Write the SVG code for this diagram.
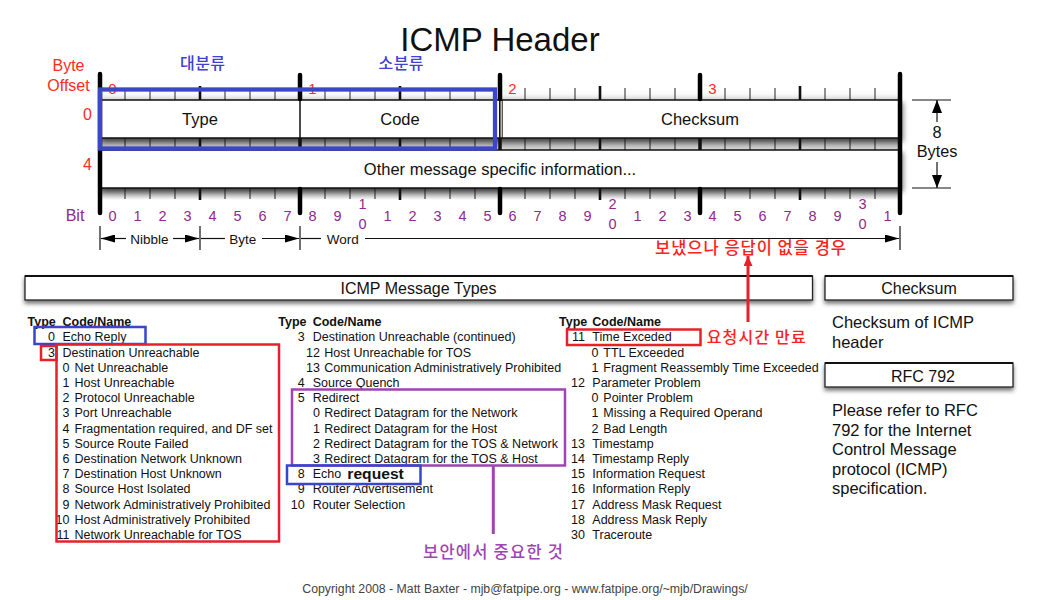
<svg xmlns="http://www.w3.org/2000/svg" width="1050" height="600" viewBox="0 0 1050 600">
<defs>
<style>
text{font-family:"Liberation Sans",Arial,Helvetica,sans-serif;}
.kr{font-family:"Noto Sans CJK KR","Noto Sans CJK SC",sans-serif;font-weight:500;}
.red{fill:#ff2b1e;}
.pur{fill:#8e2a8e;font-size:14.5px;text-anchor:middle;}
.lbl{font-size:16.5px;text-anchor:middle;fill:#111;}
.li{font-size:12.5px;fill:#111;}
.n{font-size:12.5px;fill:#111;text-anchor:end;}
.hd{font-size:12.5px;font-weight:bold;fill:#111;}
.rt{font-size:16.5px;fill:#111;}
.sec{font-size:16px;fill:#111;text-anchor:middle;}
.row{fill:#fff;stroke:#111;stroke-width:1.5;}
.secbox{fill:#fff;stroke:#222;stroke-width:1.3;}
.nib{stroke:#111;stroke-width:2.6;}
.bar{stroke:#000;stroke-width:4.5;stroke-linecap:round;}
.rl{stroke:#111;stroke-width:1.2;fill:none;}
.bbox{fill:none;stroke:#3a44cc;stroke-width:2.5;}
.rbox{fill:none;stroke:#e8202a;stroke-width:2.5;}
.pbox{fill:none;stroke:#a044b4;stroke-width:2.5;}
</style>
<linearGradient id="gTop" x1="0" y1="0" x2="0" y2="1"><stop offset="0" stop-color="#ffffff"/><stop offset="0.5" stop-color="#fafafa"/><stop offset="1" stop-color="#dcdcdc"/></linearGradient>
<linearGradient id="gBand" x1="0" y1="0" x2="0" y2="1"><stop offset="0" stop-color="#767676"/><stop offset="1" stop-color="#e2e2e2"/></linearGradient>
<linearGradient id="gBot" x1="0" y1="0" x2="0" y2="1"><stop offset="0" stop-color="#6a6a6a"/><stop offset="1" stop-color="#ffffff"/></linearGradient>
<pattern id="pTick" patternUnits="userSpaceOnUse" x="99.5" y="0" width="25" height="600"><rect x="0" y="0" width="1" height="600" fill="#222"/></pattern>
<filter id="shR" x="-5%" y="-30%" width="110%" height="180%"><feDropShadow dx="3" dy="3" stdDeviation="2.5" flood-color="#000" flood-opacity="0.45"/></filter>
<filter id="shB" x="-5%" y="-40%" width="110%" height="200%"><feDropShadow dx="0" dy="3" stdDeviation="2.2" flood-color="#000" flood-opacity="0.55"/></filter>
<marker id="ah" markerUnits="userSpaceOnUse" markerWidth="14" markerHeight="8" refX="14" refY="4" orient="auto"><path d="M0,0L14,4L0,8z" fill="#000"/></marker>
<marker id="ah8" markerUnits="userSpaceOnUse" markerWidth="13" markerHeight="10" refX="13" refY="5" orient="auto"><path d="M0,0L13,5L0,10z" fill="#000"/></marker>
<marker id="ahR" markerUnits="userSpaceOnUse" markerWidth="10" markerHeight="9" refX="10" refY="4.5" orient="auto"><path d="M0,0L10,4.5L0,9z" fill="#e8202a"/></marker>
</defs>
<rect width="1050" height="600" fill="#fff"/>

<g id="title"><text x="500" y="51" font-size="33" text-anchor="middle" fill="#111">ICMP Header</text></g>

<g id="header-labels">
<text class="red" x="68.5" y="71" font-size="16" text-anchor="middle">Byte</text>
<text class="red" x="68.5" y="91" font-size="16" text-anchor="middle">Offset</text>
<text class="red" x="87.5" y="119.5" font-size="16" text-anchor="middle">0</text>
<text class="red" x="87.5" y="170" font-size="16" text-anchor="middle">4</text>
<text class="kr" x="180" y="69" font-size="16" fill="#4040d4" textLength="45" lengthAdjust="spacing">대분류</text>
<text class="kr" x="378.5" y="69" font-size="16" fill="#4040d4" textLength="45" lengthAdjust="spacing">소분류</text>
</g>

<g id="header-table">
<rect x="100" y="88" width="800" height="12" fill="url(#gTop)"/>
<rect x="100" y="88" width="800" height="12" fill="url(#pTick)"/>
<rect x="100" y="138" width="800" height="12" fill="url(#gBand)"/>
<rect x="100" y="138" width="800" height="12" fill="url(#pTick)"/>
<rect x="100" y="188" width="800" height="12" fill="url(#gBot)"/>
<rect x="100" y="188" width="800" height="11" fill="url(#pTick)"/>
<rect class="row" x="100" y="100" width="800" height="38" filter="url(#shR)"/>
<rect class="row" x="100" y="150" width="800" height="38" filter="url(#shR)"/>
<line x1="300" y1="100" x2="300" y2="138" stroke="#111" stroke-width="1.5"/>
<line x1="499.8" y1="100" x2="499.8" y2="138" stroke="#111" stroke-width="1.6"/>
<line x1="502.2" y1="100" x2="502.2" y2="138" stroke="#111" stroke-width="1"/>
<path class="nib" d="M200 86V100M400 86V100M600 86V100M800 86V100M200 138V150M400 138V150M600 138V150M800 138V150M200 188V200M400 188V200M600 188V200M800 188V200"/>
<path class="nib" style="stroke-width:3.5" d="M300 138V150M500 138V150M700 138V150"/>
<path class="bar" d="M100 74V213M900 74V213M300 75V99M500 75V99M700 75V99M300 189V213M500 189V213M700 189V213"/>
<text class="red" x="112.5" y="94" font-size="15" text-anchor="middle">0</text>
<text class="red" x="312.5" y="94" font-size="15" text-anchor="middle">1</text>
<text class="red" x="512.5" y="94" font-size="15" text-anchor="middle">2</text>
<text class="red" x="712.5" y="94" font-size="15" text-anchor="middle">3</text>
<text class="lbl" x="200" y="125">Type</text>
<text class="lbl" x="400" y="125">Code</text>
<text class="lbl" x="700" y="125">Checksum</text>
<text class="lbl" x="500" y="175">Other message specific information...</text>
</g>

<g id="size-8-bytes">
<path class="rl" d="M912 100H951M912 188H951"/>
<path class="rl" d="M937 122V100" marker-end="url(#ah8)"/>
<path class="rl" d="M937 162V188" marker-end="url(#ah8)"/>
<text x="937" y="137.5" font-size="16.3" text-anchor="middle" fill="#111">8</text>
<text x="937" y="157" font-size="16.3" text-anchor="middle" fill="#111">Bytes</text>
</g>

<g id="bit-numbers">
<text x="75" y="221" font-size="16" text-anchor="middle" fill="#8e2a8e">Bit</text>
<text class="pur" x="112.5" y="221">0</text><text class="pur" x="137.5" y="221">1</text><text class="pur" x="162.5" y="221">2</text><text class="pur" x="187.5" y="221">3</text>
<text class="pur" x="212.5" y="221">4</text><text class="pur" x="237.5" y="221">5</text><text class="pur" x="262.5" y="221">6</text><text class="pur" x="287.5" y="221">7</text>
<text class="pur" x="312.5" y="221">8</text><text class="pur" x="337.5" y="221">9</text>
<text class="pur" x="362.5" y="209">1</text><text class="pur" x="362.5" y="228.5">0</text>
<text class="pur" x="387.5" y="221">1</text><text class="pur" x="412.5" y="221">2</text><text class="pur" x="437.5" y="221">3</text><text class="pur" x="462.5" y="221">4</text>
<text class="pur" x="487.5" y="221">5</text><text class="pur" x="512.5" y="221">6</text><text class="pur" x="537.5" y="221">7</text><text class="pur" x="562.5" y="221">8</text>
<text class="pur" x="587.5" y="221">9</text>
<text class="pur" x="612.5" y="209">2</text><text class="pur" x="612.5" y="228.5">0</text>
<text class="pur" x="637.5" y="221">1</text><text class="pur" x="662.5" y="221">2</text><text class="pur" x="687.5" y="221">3</text><text class="pur" x="712.5" y="221">4</text>
<text class="pur" x="737.5" y="221">5</text><text class="pur" x="762.5" y="221">6</text><text class="pur" x="787.5" y="221">7</text><text class="pur" x="812.5" y="221">8</text>
<text class="pur" x="837.5" y="221">9</text>
<text class="pur" x="862.5" y="209">3</text><text class="pur" x="862.5" y="228.5">0</text>
<text class="pur" x="887.5" y="221">1</text>
</g>

<g id="ruler">
<path class="rl" d="M100 226V250M200 226V250M300 226V250M900 226V250"/>
<path class="rl" d="M126 238.5H101" marker-end="url(#ah)"/>
<path class="rl" d="M173 238.5H199" marker-end="url(#ah)"/>
<path class="rl" d="M201 238.5H225"/>
<path class="rl" d="M262 238.5H299" marker-end="url(#ah)"/>
<path class="rl" d="M301 238.5H321"/>
<path class="rl" d="M365 238.5H899" marker-end="url(#ah)"/>
<text x="149.5" y="243.5" font-size="13.5" text-anchor="middle" fill="#111">Nibble</text>
<text x="242.7" y="243.5" font-size="13.5" text-anchor="middle" fill="#111">Byte</text>
<text x="326.7" y="243.5" font-size="13.5" fill="#111">Word</text>
<text class="kr" x="655" y="254" font-size="16.5" fill="#ff2020" textLength="191" lengthAdjust="spacing">보냈으나 응답이 없을 경우</text>
</g>

<g id="section-boxes">
<rect class="secbox" x="25" y="276" width="787.5" height="24" filter="url(#shB)"/>
<line x1="25" y1="276" x2="812.5" y2="276" stroke="#111" stroke-width="2"/>
<text class="sec" x="418.5" y="294">ICMP Message Types</text>
<rect class="secbox" x="825" y="276" width="188" height="24" filter="url(#shB)"/>
<line x1="825" y1="276" x2="1013" y2="276" stroke="#111" stroke-width="2"/>
<text class="sec" x="919" y="294">Checksum</text>
<rect class="secbox" x="825" y="363" width="188" height="24" filter="url(#shB)"/>
<line x1="825" y1="363" x2="1013" y2="363" stroke="#111" stroke-width="2"/>
<text class="sec" x="923" y="381.5">RFC 792</text>
</g>

<g id="checksum-text">
<text class="rt" x="832" y="328">Checksum of ICMP</text>
<text class="rt" x="832" y="348">header</text>
</g>
<g id="rfc-text">
<text class="rt" x="832" y="416">Please refer to RFC</text>
<text class="rt" x="832" y="435.5">792 for the Internet</text>
<text class="rt" x="832" y="455">Control Message</text>
<text class="rt" x="832" y="474.5">protocol (ICMP)</text>
<text class="rt" x="832" y="494">specification.</text>
</g>

<g id="types-col1">
<text class="hd" x="27.5" y="326.2">Type</text><text class="hd" x="62.5" y="326.2">Code/Name</text>
<text class="n" x="55" y="341.4">0</text><text class="li" x="62.5" y="341.4">Echo Reply</text>
<text class="n" x="55" y="356.6">3</text><text class="li" x="62.5" y="356.6">Destination Unreachable</text>
<text class="n" x="69.5" y="371.8">0</text><text class="li" x="74.5" y="371.8">Net Unreachable</text>
<text class="n" x="69.5" y="387">1</text><text class="li" x="74.5" y="387">Host Unreachable</text>
<text class="n" x="69.5" y="402.2">2</text><text class="li" x="74.5" y="402.2">Protocol Unreachable</text>
<text class="n" x="69.5" y="417.3">3</text><text class="li" x="74.5" y="417.3">Port Unreachable</text>
<text class="n" x="69.5" y="432.5">4</text><text class="li" x="74.5" y="432.5">Fragmentation required, and DF set</text>
<text class="n" x="69.5" y="447.7">5</text><text class="li" x="74.5" y="447.7">Source Route Failed</text>
<text class="n" x="69.5" y="462.9">6</text><text class="li" x="74.5" y="462.9">Destination Network Unknown</text>
<text class="n" x="69.5" y="478.1">7</text><text class="li" x="74.5" y="478.1">Destination Host Unknown</text>
<text class="n" x="69.5" y="493.3">8</text><text class="li" x="74.5" y="493.3">Source Host Isolated</text>
<text class="n" x="69.5" y="508.5">9</text><text class="li" x="74.5" y="508.5">Network Administratively Prohibited</text>
<text class="n" x="69.5" y="523.7">10</text><text class="li" x="74.5" y="523.7">Host Administratively Prohibited</text>
<text class="n" x="69.5" y="538.9">11</text><text class="li" x="74.5" y="538.9">Network Unreachable for TOS</text>
</g>

<g id="types-col2">
<text class="hd" x="278.3" y="326.2">Type</text><text class="hd" x="312.7" y="326.2">Code/Name</text>
<text class="n" x="304.7" y="341.4">3</text><text class="li" x="312.7" y="341.4">Destination Unreachable (continued)</text>
<text class="n" x="320" y="356.6">12</text><text class="li" x="324.3" y="356.6">Host Unreachable for TOS</text>
<text class="n" x="320" y="371.8">13</text><text class="li" x="324.3" y="371.8">Communication Administratively Prohibited</text>
<text class="n" x="304.7" y="387">4</text><text class="li" x="312.7" y="387">Source Quench</text>
<text class="n" x="304.7" y="402.2">5</text><text class="li" x="312.7" y="402.2">Redirect</text>
<text class="n" x="320" y="417.3">0</text><text class="li" x="324.3" y="417.3">Redirect Datagram for the Network</text>
<text class="n" x="320" y="432.5">1</text><text class="li" x="324.3" y="432.5">Redirect Datagram for the Host</text>
<text class="n" x="320" y="447.7">2</text><text class="li" x="324.3" y="447.7">Redirect Datagram for the TOS &amp; Network</text>
<text class="n" x="320" y="462.9">3</text><text class="li" x="324.3" y="462.9">Redirect Datagram for the TOS &amp; Host</text>
<text class="n" x="304.7" y="478.1">8</text><text class="li" x="312.7" y="478.1">Echo</text>
<text x="347.3" y="479" font-size="15" font-weight="bold" fill="#111" textLength="56.5" lengthAdjust="spacingAndGlyphs">request</text>
<text class="n" x="304.7" y="493.3">9</text><text class="li" x="312.7" y="493.3">Router Advertisement</text>
<text class="n" x="304.7" y="508.5">10</text><text class="li" x="312.7" y="508.5">Router Selection</text>
</g>

<g id="types-col3">
<text class="hd" x="559" y="326.2">Type</text><text class="hd" x="592.3" y="326.2">Code/Name</text>
<text class="n" x="585" y="341.4">11</text><text class="li" x="592.3" y="341.4">Time Exceded</text>
<text class="n" x="598.5" y="356.6">0</text><text class="li" x="603.3" y="356.6">TTL Exceeded</text>
<text class="n" x="598.5" y="371.8">1</text><text class="li" x="603.3" y="371.8">Fragment Reassembly Time Exceeded</text>
<text class="n" x="585" y="387">12</text><text class="li" x="592.3" y="387">Parameter Problem</text>
<text class="n" x="598.5" y="402.2">0</text><text class="li" x="603.3" y="402.2">Pointer Problem</text>
<text class="n" x="598.5" y="417.3">1</text><text class="li" x="603.3" y="417.3">Missing a Required Operand</text>
<text class="n" x="598.5" y="432.5">2</text><text class="li" x="603.3" y="432.5">Bad Length</text>
<text class="n" x="585" y="447.7">13</text><text class="li" x="592.3" y="447.7">Timestamp</text>
<text class="n" x="585" y="462.9">14</text><text class="li" x="592.3" y="462.9">Timestamp Reply</text>
<text class="n" x="585" y="478.1">15</text><text class="li" x="592.3" y="478.1">Information Request</text>
<text class="n" x="585" y="493.3">16</text><text class="li" x="592.3" y="493.3">Information Reply</text>
<text class="n" x="585" y="508.5">17</text><text class="li" x="592.3" y="508.5">Address Mask Request</text>
<text class="n" x="585" y="523.7">18</text><text class="li" x="592.3" y="523.7">Address Mask Reply</text>
<text class="n" x="585" y="538.9">30</text><text class="li" x="592.3" y="538.9">Traceroute</text>
</g>

<g id="highlight-boxes">
<rect class="bbox" style="stroke-width:4.3;stroke:#3c46c8" x="100" y="89.5" width="395" height="59"/>
<rect class="bbox" x="34.5" y="327" width="111" height="17"/>
<rect class="rbox" x="41" y="346" width="15.5" height="14"/>
<rect class="rbox" x="56.5" y="344.5" width="222.5" height="197"/>
<rect class="pbox" x="292" y="389.5" width="273" height="76"/>
<rect class="bbox" x="287" y="465.5" width="133.5" height="18.5"/>
<rect class="rbox" x="567" y="329.5" width="133.5" height="15.5"/>
</g>

<g id="connectors">
<path d="M748 322V256" stroke="#e8202a" stroke-width="3" fill="none" marker-end="url(#ahR)"/>
<path d="M493.3 466V534" stroke="#a044b4" stroke-width="3" fill="none"/>
</g>

<g id="annotations">
<text class="kr" x="706.7" y="342.5" font-size="16" fill="#ff2020" textLength="99" lengthAdjust="spacing">요청시간 만료</text>
<text class="kr" x="423" y="558" font-size="16.5" fill="#a044b4" textLength="140" lengthAdjust="spacing">보안에서 중요한 것</text>
</g>

<g id="copyright"><text x="525" y="593" font-size="12.3" text-anchor="middle" fill="#444">Copyright 2008 - Matt Baxter - mjb@fatpipe.org - www.fatpipe.org/~mjb/Drawings/</text></g>
</svg>
